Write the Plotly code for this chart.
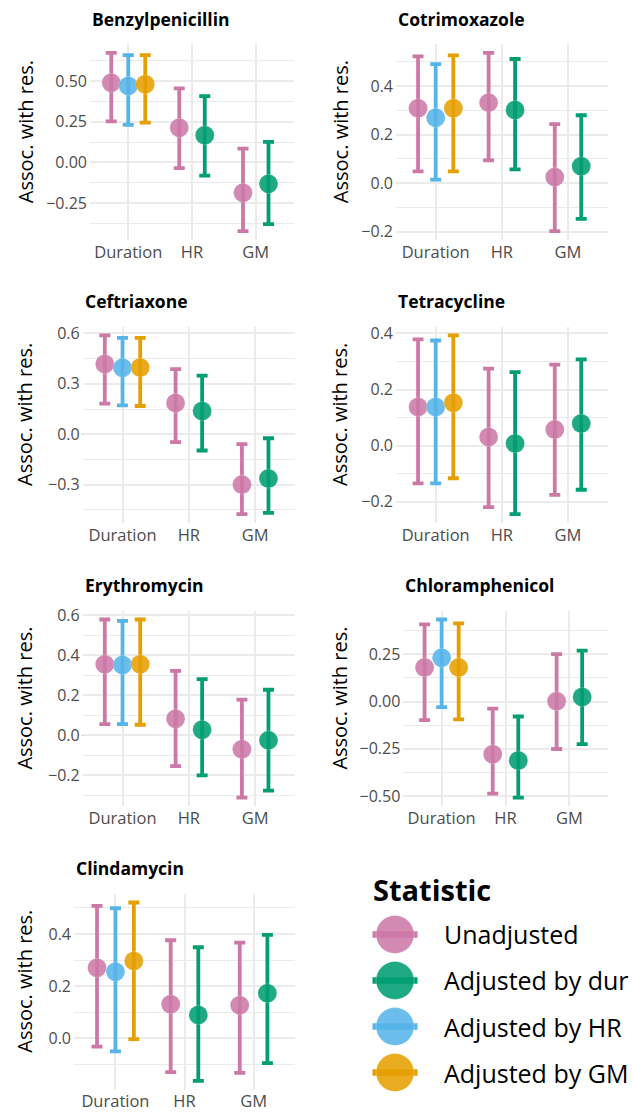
import plotly.graph_objects as go

# ---------------- data ----------------
antibiotics = ["Benzylpenicillin", "Cotrimoxazole", "Ceftriaxone", "Tetracycline",
               "Erythromycin", "Chloramphenicol", "Clindamycin"]
categories = ["Duration", "HR", "GM"]
statistics = ["Unadjusted", "Adjusted by dur", "Adjusted by HR", "Adjusted by GM"]

# per antibiotic: [Duration, HR, GM]
unadj_est = [[0.490, 0.213, -0.187], [0.309, 0.332, 0.025], [0.418, 0.186, -0.300],
             [0.138, 0.031, 0.058], [0.355, 0.083, -0.069], [0.180, -0.279, 0.002],
             [0.270, 0.130, 0.126]]
unadj_lo = [[0.252, -0.035, -0.423], [0.049, 0.094, -0.198], [0.182, -0.047, -0.476],
            [-0.134, -0.219, -0.175], [0.056, -0.154, -0.311], [-0.098, -0.487, -0.251],
            [-0.033, -0.131, -0.134]]
unadj_hi = [[0.673, 0.455, 0.085], [0.523, 0.537, 0.243], [0.588, 0.387, -0.059],
            [0.379, 0.275, 0.289], [0.579, 0.322, 0.179], [0.408, -0.037, 0.251],
            [0.508, 0.376, 0.367]]

adjdur_est = [[None, 0.167, -0.132], [None, 0.302, 0.070], [None, 0.138, -0.264],
              [None, 0.008, 0.079], [None, 0.028, -0.025], [None, -0.312, 0.024],
              [None, 0.089, 0.172]]
adjdur_lo = [[None, -0.081, -0.380], [None, 0.057, -0.147], [None, -0.097, -0.468],
             [None, -0.244, -0.157], [None, -0.200, -0.276], [None, -0.508, -0.225],
             [None, -0.164, -0.096]]
adjdur_hi = [[None, 0.407, 0.126], [None, 0.512, 0.280], [None, 0.349, -0.024],
             [None, 0.262, 0.308], [None, 0.281, 0.228], [None, -0.079, 0.269],
             [None, 0.349, 0.397]]

adjhr_est = [[0.470, None, None], [0.270, None, None], [0.395, None, None],
             [0.138, None, None], [0.352, None, None], [0.232, None, None],
             [0.255, None, None]]
adjhr_lo = [[0.230, None, None], [0.015, None, None], [0.172, None, None],
            [-0.134, None, None], [0.056, None, None], [-0.030, None, None],
            [-0.051, None, None]]
adjhr_hi = [[0.659, None, None], [0.491, None, None], [0.574, None, None],
            [0.375, None, None], [0.572, None, None], [0.434, None, None],
            [0.499, None, None]]

adjgm_est = [[0.480, None, None], [0.309, None, None], [0.397, None, None],
             [0.153, None, None], [0.355, None, None], [0.180, None, None],
             [0.296, None, None]]
adjgm_lo = [[0.244, None, None], [0.049, None, None], [0.168, None, None],
            [-0.116, None, None], [0.053, None, None], [-0.094, None, None],
            [-0.004, None, None]]
adjgm_hi = [[0.660, None, None], [0.527, None, None], [0.574, None, None],
            [0.393, None, None], [0.579, None, None], [0.414, None, None],
            [0.521, None, None]]

# ---------------- styling / layout ----------------
W, H = 633, 1115
colors = ["#CC79A7", "#009E73", "#56B4E9", "#E69F00"]
marker_fill = ["rgba(204,121,167,0.88)", "rgba(0,158,115,0.88)",
               "rgba(86,180,233,0.88)", "rgba(230,159,0,0.88)"]
FONT = "Open Sans"
TICK_COLOR = "#4D4D4D"
GRID = "#EBEBEB"

# plot area in pixels (left, right, top, bottom)
panel_px = [
    (90, 294, 37.3, 235),
    (396, 607.7, 37.3, 235),
    (82.7, 295, 322.1, 520.3),
    (396, 607.7, 322.1, 520.3),
    (82.7, 295, 608.5, 806),
    (403.3, 607.7, 608.5, 806),
    (74, 295, 893.8, 1091.5),
]
panel_dtick = [0.25, 0.2, 0.3, 0.2, 0.2, 0.25, 0.2]
panel_fmt = [".2f", ".1f", ".1f", ".1f", ".1f", ".2f", ".1f"]
ytitle_x = [25, 340, 25, 340, 25, 340, 25]

est_all = [unadj_est, adjdur_est, adjhr_est, adjgm_est]
lo_all = [unadj_lo, adjdur_lo, adjhr_lo, adjgm_lo]
hi_all = [unadj_hi, adjdur_hi, adjhr_hi, adjgm_hi]
DODGE = 0.8

fig = go.Figure()
annotations = []
shapes = []
layout_axes = {}

for p, name in enumerate(antibiotics):
    k = p + 1
    sfx = "" if k == 1 else str(k)
    xa, ya = f"x{sfx}", f"y{sfx}"
    # dodge positions per category
    xpos = [[None] * 3 for _ in statistics]
    for c in range(3):
        present = [s for s in range(len(statistics)) if est_all[s][p][c] is not None]
        n = len(present)
        for i, s in enumerate(present):
            xpos[s][c] = (c + 1) + (i - (n - 1) / 2) * DODGE / n
    ymin, ymax = 1e9, -1e9
    for s in range(len(statistics)):
        xs, ys, up, dn = [], [], [], []
        for c in range(3):
            e = est_all[s][p][c]
            if e is None:
                continue
            lo, hi = lo_all[s][p][c], hi_all[s][p][c]
            xs.append(xpos[s][c]); ys.append(e)
            up.append(hi - e); dn.append(e - lo)
            ymin = min(ymin, lo); ymax = max(ymax, hi)
        if not xs:
            continue
        fig.add_trace(go.Scatter(
            x=xs, y=ys, mode="markers", xaxis=xa, yaxis=ya, showlegend=False,
            name=statistics[s],
            marker=dict(size=19, color=marker_fill[s],
                        line=dict(width=0.6, color="rgba(255,255,255,0.35)")),
            error_y=dict(type="data", array=up, arrayminus=dn, color=colors[s],
                         thickness=3.8, width=5.5),
        ))
    span = ymax - ymin
    yr = [ymin - 0.05 * span, ymax + 0.05 * span]
    L, R, T, B = panel_px[p]
    layout_axes[f"xaxis{sfx}"] = dict(
        domain=[L / W, R / W], anchor=ya, range=[0.4, 3.6],
        tickvals=[1, 2, 3], ticktext=categories, showgrid=True, gridcolor=GRID,
        gridwidth=1.8, zeroline=False, showline=False, ticks="",
        tickfont=dict(family=FONT, size=16.5, color=TICK_COLOR), fixedrange=True)
    layout_axes[f"yaxis{sfx}"] = dict(
        domain=[1 - B / H, 1 - T / H], anchor=xa, range=yr, dtick=panel_dtick[p],
        tick0=0, tickformat=panel_fmt[p], showgrid=True, gridcolor=GRID,
        gridwidth=1.6, zeroline=False, showline=False, ticks="",
        ticklabelstandoff=2,
        minor=dict(dtick=panel_dtick[p] / 2, tick0=0, showgrid=True,
                   gridcolor=GRID, gridwidth=0.9),
        tickfont=dict(family=FONT, size=16, color=TICK_COLOR), fixedrange=True)
    shapes.append(dict(type="line", xref=f"{xa} domain", yref=ya, x0=0, x1=1,
                       y0=0, y1=0, layer="below",
                       line=dict(color="black", width=1.3, dash="6px,6px")))
    annotations.append(dict(text=f"<b>{name}</b>", x=L / W, y=1 - (T - 25.5) / H,
                            xref="paper", yref="paper", xanchor="left",
                            yanchor="middle", showarrow=False,
                            font=dict(family=FONT, size=17.5, color="black")))
    annotations.append(dict(text="Assoc. with res.", x=ytitle_x[p] / W,
                            y=1 - ((T + B) / 2 - 10) / H, xref="paper", yref="paper",
                            xanchor="center", yanchor="middle", textangle=-90,
                            showarrow=False,
                            font=dict(family=FONT, size=20, color="black")))

# ---------------- legend (drawn on its own axis) ----------------
LG_L, LG_R, LG_T, LG_B = 355, 633, 912, 1100
key_x = 395
key_y0, key_step = 935, 46.4
layout_axes["xaxis8"] = dict(domain=[LG_L / W, LG_R / W], anchor="y8",
                             range=[LG_L, LG_R], visible=False, fixedrange=True)
layout_axes["yaxis8"] = dict(domain=[1 - LG_B / H, 1 - LG_T / H], anchor="x8",
                             range=[(LG_B - key_y0) / key_step, (LG_T - key_y0) / key_step],
                             visible=False, fixedrange=True)
for s, lab in enumerate(statistics):
    fig.add_trace(go.Scatter(
        x=[key_x], y=[s], mode="markers", xaxis="x8", yaxis="y8", showlegend=False,
        marker=dict(size=38, color=marker_fill[s],
                    line=dict(width=0.8, color="rgba(255,255,255,0.35)")),
        error_x=dict(type="data", array=[22.5], color=colors[s], thickness=6.5, width=0),
        hoverinfo="skip"))
    annotations.append(dict(text=lab, x=441.5 / W, y=s, xref="paper", yref="y8",
                            xanchor="left", yanchor="middle", showarrow=False,
                            font=dict(family=FONT, size=25, color="black")))
annotations.append(dict(text="<b>Statistic</b>", x=371 / W, y=1 - 890 / H,
                        xref="paper", yref="paper", xanchor="left", yanchor="middle",
                        showarrow=False, font=dict(family=FONT, size=29, color="black")))

fig.update_layout(
    width=W, height=H, margin=dict(l=0, r=0, t=0, b=0),
    paper_bgcolor="white", plot_bgcolor="white",
    font=dict(family=FONT), annotations=annotations, shapes=shapes,
    **layout_axes)

fig.write_html("out.html", config={"displayModeBar": False},
               post_script="document.body.style.margin='0';"
                           "document.documentElement.style.overflow='hidden';")
